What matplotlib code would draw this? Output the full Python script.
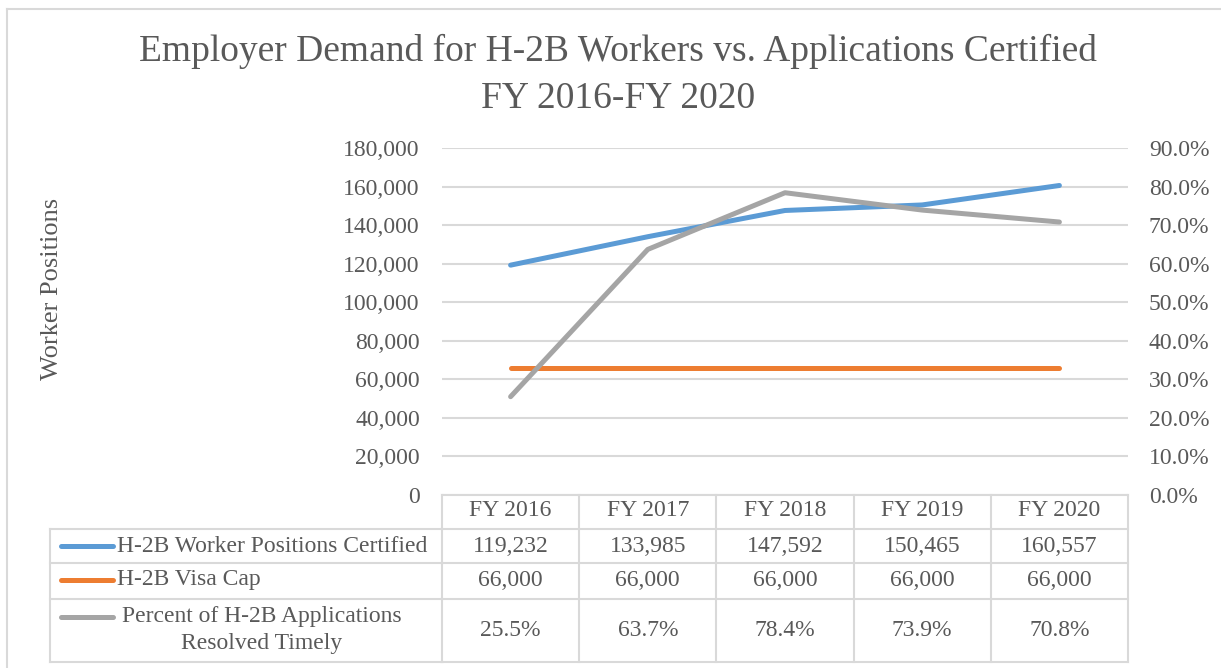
import matplotlib
matplotlib.use("Agg")
import matplotlib.pyplot as plt
from matplotlib.lines import Line2D
from matplotlib.ticker import FuncFormatter, MultipleLocator
import matplotlib.transforms as mtransforms

categories = ["FY 2016", "FY 2017", "FY 2018", "FY 2019", "FY 2020"]
certified = [119232, 133985, 147592, 150465, 160557]
visa_cap = [66000, 66000, 66000, 66000, 66000]
pct_timely = [25.5, 63.7, 78.4, 73.9, 70.8]
series_names = ["H-2B Worker Positions Certified", "H-2B Visa Cap",
                "Percent of H-2B Applications\nResolved Timely"]
title = "Employer Demand for H-2B Workers vs. Applications Certified\nFY 2016-FY 2020"
ylabel = "Worker Positions"

BLUE, ORANGE, GRAY = "#5B9BD5", "#ED7D31", "#A5A5A5"
TXT = "#595959"
GRID = "#D9D9D9"
FONT = "Liberation Serif"

W, H = 1221, 668
fig = plt.figure(figsize=(W / 100, H / 100), dpi=100)
plt.rcParams["font.family"] = FONT

ax_l, ax_r, ax_t, ax_b = 442, 1128, 148, 495
ax = fig.add_axes([ax_l / W, 1 - ax_b / H, (ax_r - ax_l) / W, (ax_b - ax_t) / H])
ax2 = ax.twinx()

x = list(range(len(categories)))
lw = 3.6
ax.plot(x, certified, color=BLUE, lw=lw, solid_capstyle="round", zorder=3)
ax.plot(x, visa_cap, color=ORANGE, lw=lw, solid_capstyle="round", zorder=3)
ax2.plot(x, pct_timely, color=GRAY, lw=lw, solid_capstyle="round", zorder=3)

ax.set_xlim(-0.5, len(categories) - 0.5)
ax.set_ylim(0, 180000)
ax2.set_ylim(0, 90)
ax.yaxis.set_major_locator(MultipleLocator(20000))
ax2.yaxis.set_major_locator(MultipleLocator(10))
ax.yaxis.set_major_formatter(FuncFormatter(lambda v, p: f"{int(v):,}"))
ax2.yaxis.set_major_formatter(FuncFormatter(lambda v, p: f"{v:.1f}%"))
ax.grid(axis="y", color=GRID, lw=1.5)
ax.set_axisbelow(True)
for a in (ax, ax2):
    for s in a.spines.values():
        s.set_visible(False)
    a.tick_params(length=0, labelsize=17, labelcolor=TXT)
    a.set_xticks([])
ax.tick_params(axis="y", pad=16)
ax2.tick_params(axis="y", pad=15)

fig.text(618 / W, 1 - 75 / H, title, ha="center", va="center", fontsize=27,
         color=TXT, linespacing=1.45)
fig.text(52 / W, 1 - 289 / H, ylabel, ha="center", va="center", rotation=90,
         fontsize=19, color=TXT)

# data table below the axes
trans = mtransforms.blended_transform_factory(ax.transData, fig.transFigure)
ftrans = fig.transFigure
def fy(py):
    return 1 - py / H
row_edges = [495, 529, 563, 599, 662]
row_centers = [511, 546, 580, 631]
tlw = 1.5
tab_left = 50
for i, py in enumerate(row_edges):
    fig.add_artist(Line2D([-0.5, len(categories) - 0.5], [fy(py), fy(py)],
                          transform=trans, color=GRID, lw=tlw))
    if i >= 1:
        fig.add_artist(Line2D([tab_left / W, ax_l / W], [fy(py), fy(py)],
                              transform=ftrans, color=GRID, lw=tlw))
for k in range(len(categories) + 1):
    xv = k - 0.5
    fig.add_artist(Line2D([xv, xv], [fy(row_edges[0]), fy(row_edges[-1])],
                          transform=trans, color=GRID, lw=tlw))
fig.add_artist(Line2D([tab_left / W, tab_left / W], [fy(row_edges[1]), fy(row_edges[-1])],
                      transform=ftrans, color=GRID, lw=tlw))

fs = 17
for i, c in enumerate(categories):
    fig.text(i, fy(row_centers[0]), c, transform=trans, ha="center", va="center",
             fontsize=fs, color=TXT)
    fig.text(i, fy(row_centers[1]), f"{certified[i]:,}", transform=trans,
             ha="center", va="center", fontsize=fs, color=TXT)
    fig.text(i, fy(row_centers[2]), f"{visa_cap[i]:,}", transform=trans,
             ha="center", va="center", fontsize=fs, color=TXT)
    fig.text(i, fy(row_centers[3]), f"{pct_timely[i]:.1f}%", transform=trans,
             ha="center", va="center", fontsize=fs, color=TXT)

key_y = [546, 580, 617]
for col, ky in zip([BLUE, ORANGE, GRAY], key_y):
    fig.add_artist(Line2D([61 / W, 113 / W], [fy(ky), fy(ky)], transform=ftrans,
                          color=col, lw=lw, solid_capstyle="round"))
fig.text(117 / W, fy(546), series_names[0], ha="left", va="center", fontsize=fs, color=TXT)
fig.text(117 / W, fy(580), series_names[1], ha="left", va="center", fontsize=fs, color=TXT)
fig.text(262 / W, fy(630), series_names[2], ha="center", va="center", fontsize=fs,
         color=TXT, multialignment="center", linespacing=1.32)

# outer chart border (top & left visible)
fig.add_artist(Line2D([7 / W, 1], [fy(9), fy(9)], transform=ftrans, color=GRID, lw=1.5))
fig.add_artist(Line2D([7 / W, 7 / W], [fy(9), 0], transform=ftrans, color=GRID, lw=1.5))

fig.savefig("out.png", dpi=100)
